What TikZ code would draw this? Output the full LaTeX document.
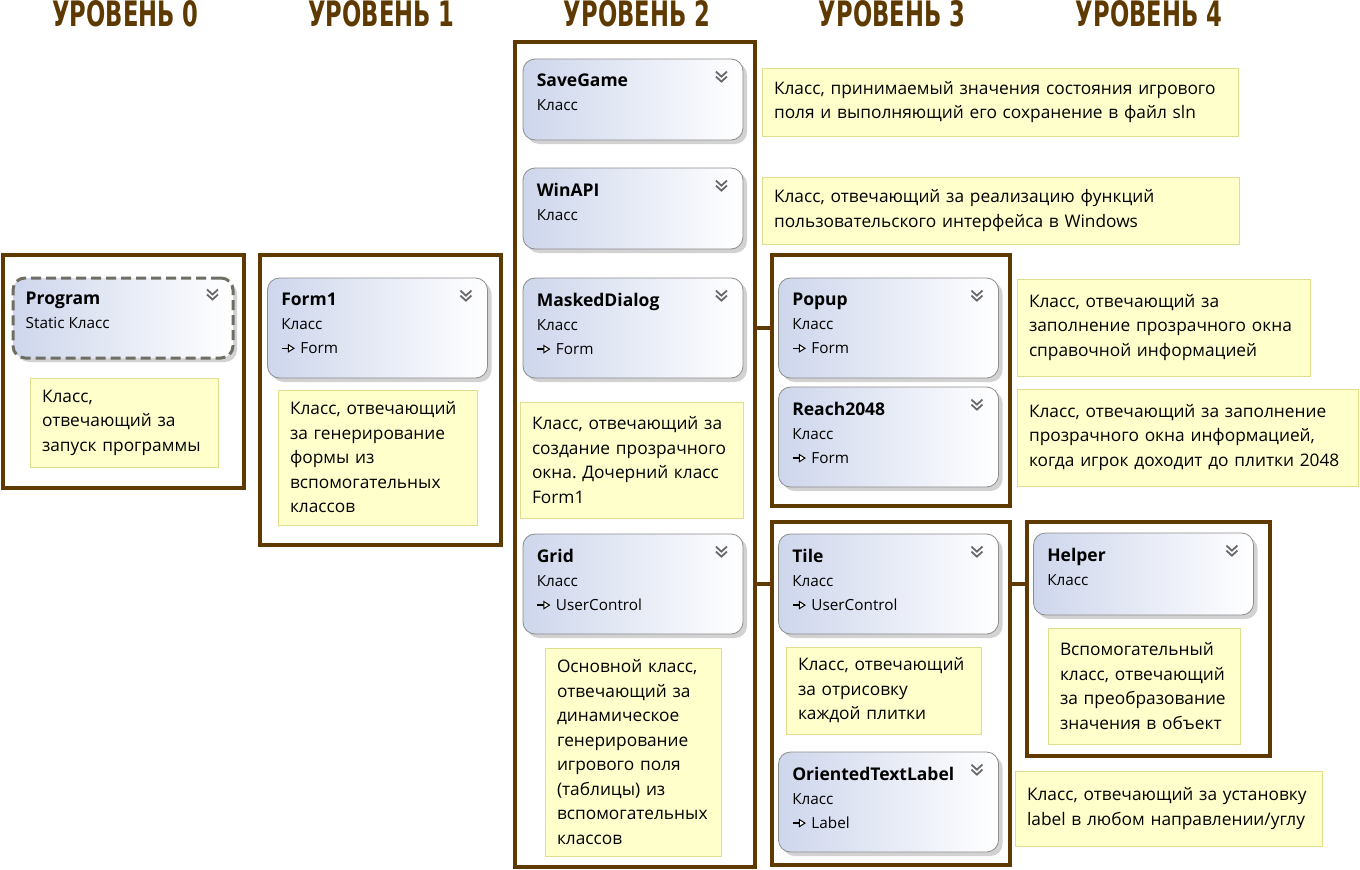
\documentclass[tikz,border=0pt]{standalone}
\usepackage{fontspec}
\setmainfont{Open Sans}
\newfontfamily\headfont[FakeStretch=0.72]{DejaVu Sans Condensed}
\definecolor{lvlbrown}{RGB}{94, 58, 0}
\definecolor{clsblue}{RGB}{206, 214, 236}
\definecolor{clsedge}{RGB}{140, 140, 140}
\definecolor{dashgray}{RGB}{110, 110, 100}
\definecolor{chevgray}{RGB}{105, 105, 105}
\definecolor{notefill}{RGB}{255, 255, 204}
\definecolor{noteedge}{RGB}{222, 222, 140}
\usetikzlibrary{positioning, shadows}
\newcommand{\clsTitle}[1]{{\fontsize{17.5}{24}\bfseries\selectfont #1}\\}
\newcommand{\inhArrow}{\tikz[x=1pt, y=1pt, baseline=0pt]{\draw[line width=1.3pt] (0,5) -- (6.5,5); \draw[line width=1pt, fill=white, line join=miter] (6.5,1.5) -- (12,5) -- (6.5,8.5) -- cycle;}\kern6pt}
\frenchspacing

\tikzset{
  lvlhead/.style={font=\headfont\bfseries\fontsize{35}{35}\selectfont, text=lvlbrown, inner sep=0pt},
  lvlframe/.style={draw=lvlbrown, line width=4pt, inner sep=0pt},
  link/.style={draw=lvlbrown, line width=4pt},
  clsbox/.style={draw=clsedge, line width=0.8pt, rounded corners=12pt, left color=clsblue, right color=white,
    minimum width=220pt, inner sep=0pt, drop shadow={shadow xshift=4pt, shadow yshift=-4pt, fill=black!35, opacity=0.5}},
  staticbox/.style={clsbox, draw=dashgray, line width=3pt, dash pattern=on 10pt off 5pt},
  clstext/.style={anchor=north west, inner sep=0pt, align=left, font=\fontsize{15.3}{24}\selectfont},
  note/.style={draw=noteedge, fill=notefill, inner xsep=12pt, inner ysep=0pt, align=left, font=\fontsize{17.3}{24.5}\selectfont},
  chev/.pic={\draw[chevgray, line width=1.8pt] (-5.5,-5) -- (0,0) -- (5.5,-5) (-5.5,0) -- (0,5) -- (5.5,0);}
}

\begin{document}
\begin{tikzpicture}[x=1pt, y=-1pt]
  \path[fill=white] (0,0) rectangle (1360,870);
  \useasboundingbox (0,0) rectangle (1360,870);

  % Levels
  \node[lvlhead] (head0) at (125.5,14) {УРОВЕНЬ 0};
  \node[lvlhead] (head1) at (381.5,14) {УРОВЕНЬ 1};
  \node[lvlhead] (head2) at (637,14) {УРОВЕНЬ 2};
  \node[lvlhead] (head3) at (892,14) {УРОВЕНЬ 3};
  \node[lvlhead] (head4) at (1149,14) {УРОВЕНЬ 4};

  \node[lvlframe, minimum width=241pt, minimum height=233pt] (lvl0) at (123.5,371.5) {};
  \node[lvlframe, minimum width=241pt, minimum height=290pt] (lvl1) at (380.5,400) {};
  \node[lvlframe, minimum width=240pt, minimum height=825pt] (lvl2) at (635,454.5) {};
  \node[lvlframe, minimum width=238pt, minimum height=251pt] (lvl3a) at (891,380.5) {};
  \node[lvlframe, minimum width=238pt, minimum height=343pt] (lvl3b) at (891,693.5) {};
  \node[lvlframe, minimum width=243pt, minimum height=234pt] (lvl4) at (1148.5,639) {};

  % Level 0
  \node[staticbox, minimum height=80pt] (program) at (123,318) {};
  \node[clstext] (programT) at ([xshift=14pt, yshift=-15pt]program.north west) {\clsTitle{Program}Static Класс};
  \pic at ([xshift=-22pt, yshift=-18pt]program.north east) {chev};
  \node[note, text width=164pt, minimum height=89pt] (programN) at (124,422.5) {Класс,\\отвечающий за\\запуск программы};

  % Level 1
  \node[clsbox, minimum height=100pt] (form1) at (377.5,328) {};
  \node[clstext] (form1T) at ([xshift=14pt, yshift=-15pt]form1.north west) {\clsTitle{Form1}Класс\\\inhArrow Form};
  \pic at ([xshift=-22pt, yshift=-18pt]form1.north east) {chev};
  \node[note, text width=175pt, minimum height=135pt] (form1N) at (377.5,457.5) {Класс, отвечающий\\за генерирование\\формы из\\вспомогательных\\классов};

  % Level 2
  \node[clsbox, minimum height=81pt] (savegame) at (633,99.5) {};
  \node[clstext] (savegameT) at ([xshift=14pt, yshift=-15pt]savegame.north west) {\clsTitle{SaveGame}Класс};
  \pic at ([xshift=-22pt, yshift=-18pt]savegame.north east) {chev};
  \node[note, text width=452pt, minimum height=68pt] (savegameN) at (1000,102) {Класс, принимаемый значения состояния игрового\\поля и выполняющий его сохранение в файл sln};

  \node[clsbox, minimum height=81pt] (winapi) at (633,208.5) {};
  \node[clstext] (winapiT) at ([xshift=14pt, yshift=-15pt]winapi.north west) {\clsTitle{WinAPI}Класс};
  \pic at ([xshift=-22pt, yshift=-18pt]winapi.north east) {chev};
  \node[note, text width=453pt, minimum height=67pt] (winapiN) at (1000.5,210.5) {Класс, отвечающий за реализацию функций\\пользовательского интерфейса в Windows};

  \node[clsbox, minimum height=100pt] (masked) at (633,328) {};
  \node[clstext] (maskedT) at ([xshift=14pt, yshift=-15pt]masked.north west) {\clsTitle{MaskedDialog}Класс\\\inhArrow Form};
  \pic at ([xshift=-22pt, yshift=-18pt]masked.north east) {chev};
  \node[note, text width=199pt, minimum height=116pt] (maskedN) at (631.5,460) {Класс, отвечающий за\\создание прозрачного\\окна. Дочерний класс\\Form1};

  \node[clsbox, minimum height=100pt] (grid) at (633,584) {};
  \node[clstext] (gridT) at ([xshift=14pt, yshift=-15pt]grid.north west) {\clsTitle{Grid}Класс\\\inhArrow UserControl};
  \pic at ([xshift=-22pt, yshift=-18pt]grid.north east) {chev};
  \node[note, text width=152pt, minimum height=208pt] (gridN) at (633,752) {Основной класс,\\отвечающий за\\динамическое\\генерирование\\игрового поля\\(таблицы) из\\вспомогательных\\классов};

  % Level 3
  \node[clsbox, minimum height=100pt] (popup) at (888.5,328) {};
  \node[clstext] (popupT) at ([xshift=14pt, yshift=-15pt]popup.north west) {\clsTitle{Popup}Класс\\\inhArrow Form};
  \pic at ([xshift=-22pt, yshift=-18pt]popup.north east) {chev};
  \node[note, text width=269pt, minimum height=97pt] (popupN) at (1163.5,327.5) {Класс, отвечающий за\\заполнение прозрачного окна\\справочной информацией};

  \node[clsbox, minimum height=100pt] (reach) at (888.5,437) {};
  \node[clstext] (reachT) at ([xshift=14pt, yshift=-15pt]reach.north west) {\clsTitle{Reach2048}Класс\\\inhArrow Form};
  \pic at ([xshift=-22pt, yshift=-18pt]reach.north east) {chev};
  \node[note, text width=317pt, minimum height=97pt] (reachN) at (1187.5,437.5) {Класс, отвечающий за заполнение\\прозрачного окна информацией,\\когда игрок доходит до плитки 2048};

  \node[clsbox, minimum height=100pt] (tile) at (888.5,584) {};
  \node[clstext] (tileT) at ([xshift=14pt, yshift=-15pt]tile.north west) {\clsTitle{Tile}Класс\\\inhArrow UserControl};
  \pic at ([xshift=-22pt, yshift=-18pt]tile.north east) {chev};
  \node[note, text width=171pt, minimum height=87pt] (tileN) at (883.5,690.5) {Класс, отвечающий\\за отрисовку\\каждой плитки};

  \node[clsbox, minimum height=100pt] (otl) at (888.5,802) {};
  \node[clstext] (otlT) at ([xshift=14pt, yshift=-15pt]otl.north west) {\clsTitle{OrientedTextLabel}Класс\\\inhArrow Label};
  \pic at ([xshift=-22pt, yshift=-18pt]otl.north east) {chev};
  \node[note, text width=283pt, minimum height=75pt] (otlN) at (1168.5,808.5) {Класс, отвечающий за установку\\label в любом направлении/углу};

  % Level 4
  \node[clsbox, minimum height=82pt] (helper) at (1143.5,574) {};
  \node[clstext] (helperT) at ([xshift=14pt, yshift=-15pt]helper.north west) {\clsTitle{Helper}Класс};
  \pic at ([xshift=-22pt, yshift=-18pt]helper.north east) {chev};
  \node[note, text width=168pt, minimum height=116pt] (helperN) at (1144,686) {Вспомогательный\\класс, отвечающий\\за преобразование\\значения в объект};

  % Links between levels
  \draw[link] (lvl2.east |- popup) -- (lvl3a.west |- popup);
  \draw[link] (lvl2.east |- tile) -- (lvl3b.west |- tile);
  \draw[link] (lvl3b.east |- tile) -- (lvl4.west |- tile);
\end{tikzpicture}
\end{document}
